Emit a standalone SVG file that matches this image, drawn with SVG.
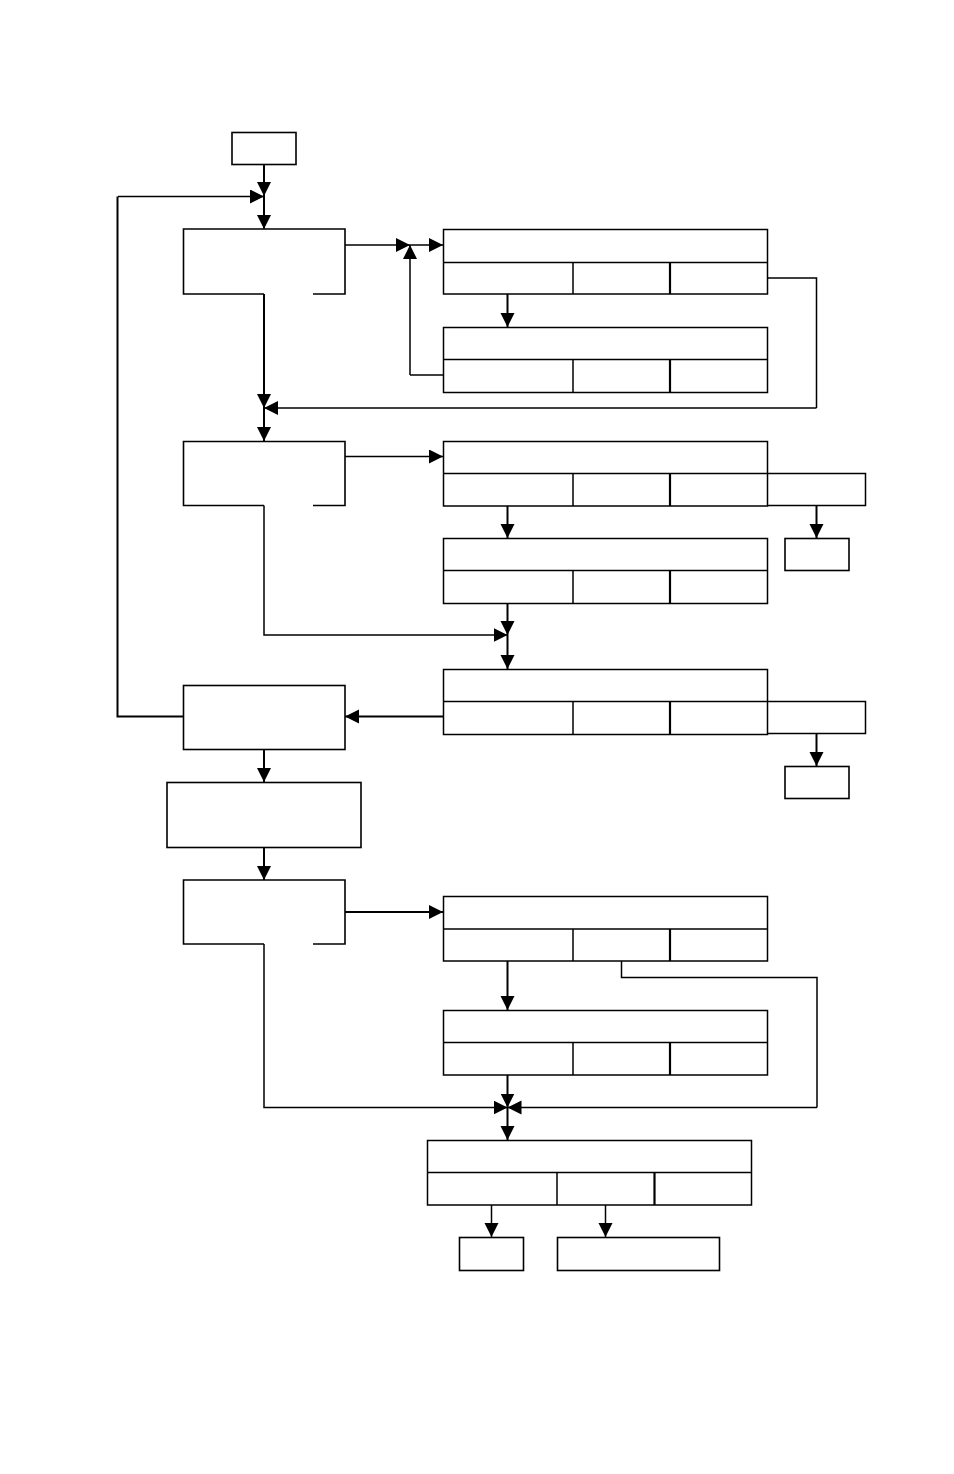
<svg xmlns="http://www.w3.org/2000/svg" width="954" height="1474" viewBox="0 0 954 1474">
<style>
.b{fill:none;stroke:#000;stroke-width:1.6}
.d{fill:none;stroke:#000;stroke-width:2.2}
.c{fill:none;stroke:#000;stroke-width:2}
.t{fill:none;stroke:#000;stroke-width:1.5}
</style>
<defs>
<marker id="ah" markerUnits="userSpaceOnUse" markerWidth="16" markerHeight="16" refX="14" refY="7" orient="auto">
<path d="M0,0 L14,7 L0,14 z" fill="#000"/>
</marker>
</defs>
<rect width="954" height="1474" fill="#fff"/>

<g id="start"><rect class="b" x="232" y="132.5" width="64" height="32"/></g>

<g id="box1"><path class="b" d="M264,294 H183.5 V229 H345 V294 H313"/></g>
<g id="table1">
<rect class="t" x="443.5" y="229.5" width="324" height="64.5"/>
<line class="t" x1="443.5" y1="262.5" x2="767.5" y2="262.5"/>
<line class="t" x1="573" y1="262.5" x2="573" y2="294"/>
<line class="d" x1="670" y1="262.5" x2="670" y2="294"/>
</g>
<g id="table2">
<rect class="t" x="443.5" y="327.5" width="324" height="65"/>
<line class="t" x1="443.5" y1="359.5" x2="767.5" y2="359.5"/>
<line class="t" x1="573" y1="359.5" x2="573" y2="392.5"/>
<line class="d" x1="670" y1="359.5" x2="670" y2="392.5"/>
</g>

<g id="box2"><path class="b" d="M264,505.5 H183.5 V441.5 H345 V505.5 H313"/></g>
<g id="table3">
<rect class="t" x="443.5" y="441.5" width="324" height="64.5"/>
<line class="t" x1="443.5" y1="473.5" x2="767.5" y2="473.5"/>
<line class="t" x1="573" y1="473.5" x2="573" y2="506"/>
<line class="d" x1="670" y1="473.5" x2="670" y2="506"/>
<path class="t" d="M767.5,473.5 H865.5 V505.5 H767.5"/>
</g>
<g id="small1"><rect class="b" x="785" y="538.5" width="64" height="32"/></g>
<g id="table4">
<rect class="t" x="443.5" y="538.5" width="324" height="65"/>
<line class="t" x1="443.5" y1="570.5" x2="767.5" y2="570.5"/>
<line class="t" x1="573" y1="570.5" x2="573" y2="603.5"/>
<line class="d" x1="670" y1="570.5" x2="670" y2="603.5"/>
</g>

<g id="table5">
<rect class="t" x="443.5" y="669.5" width="324" height="65"/>
<line class="t" x1="443.5" y1="701.5" x2="767.5" y2="701.5"/>
<line class="t" x1="573" y1="701.5" x2="573" y2="734.5"/>
<line class="d" x1="670" y1="701.5" x2="670" y2="734.5"/>
<path class="t" d="M767.5,701.5 H865.5 V733.5 H767.5"/>
</g>
<g id="small2"><rect class="b" x="785" y="766.5" width="64" height="32"/></g>

<g id="box3"><rect class="b" x="183.5" y="685.5" width="161.5" height="64"/></g>
<g id="box4"><rect class="b" x="167" y="782.5" width="194" height="65"/></g>

<g id="box5"><path class="b" d="M264,944 H183.5 V880 H345 V944 H313"/></g>
<g id="table6">
<rect class="t" x="443.5" y="896.5" width="324" height="64.5"/>
<line class="t" x1="443.5" y1="929" x2="767.5" y2="929"/>
<line class="t" x1="573" y1="929" x2="573" y2="961"/>
<line class="d" x1="670" y1="929" x2="670" y2="961"/>
</g>
<g id="table7">
<rect class="t" x="443.5" y="1010.5" width="324" height="64.5"/>
<line class="t" x1="443.5" y1="1042.5" x2="767.5" y2="1042.5"/>
<line class="t" x1="573" y1="1042.5" x2="573" y2="1075"/>
<line class="d" x1="670" y1="1042.5" x2="670" y2="1075"/>
</g>
<g id="table8">
<rect class="t" x="427.5" y="1140.5" width="324" height="64.5"/>
<line class="t" x1="427.5" y1="1172.5" x2="751.5" y2="1172.5"/>
<line class="t" x1="557" y1="1172.5" x2="557" y2="1205"/>
<line class="d" x1="654.5" y1="1172.5" x2="654.5" y2="1205"/>
</g>
<g id="small3"><rect class="b" x="459.5" y="1237.5" width="64" height="33"/></g>
<g id="wide"><rect class="b" x="557.5" y="1237.5" width="162" height="33"/></g>

<g id="connectors">
<line class="c" x1="264" y1="164.5" x2="264" y2="196" marker-end="url(#ah)"/>
<line class="t" x1="118" y1="196.5" x2="264" y2="196.5" marker-end="url(#ah)"/>
<line class="c" x1="264" y1="196" x2="264" y2="229" marker-end="url(#ah)"/>

<line class="t" x1="345" y1="245" x2="410" y2="245" marker-end="url(#ah)"/>
<line class="t" x1="410" y1="375" x2="410" y2="245" marker-end="url(#ah)"/>
<path class="t" d="M443.5,375 H410"/>
<line class="t" x1="410" y1="245" x2="443" y2="245" marker-end="url(#ah)"/>
<line class="c" x1="507.5" y1="294" x2="507.5" y2="327" marker-end="url(#ah)"/>
<path class="t" d="M767.5,278 H816.5 V408"/>
<line class="t" x1="816.5" y1="408" x2="264" y2="408" marker-end="url(#ah)"/>
<line class="c" x1="264" y1="294" x2="264" y2="408" marker-end="url(#ah)"/>
<line class="c" x1="264" y1="408" x2="264" y2="441" marker-end="url(#ah)"/>

<line class="t" x1="345" y1="456.5" x2="443" y2="456.5" marker-end="url(#ah)"/>
<line class="c" x1="507.5" y1="506" x2="507.5" y2="538" marker-end="url(#ah)"/>
<line class="c" x1="816.5" y1="505.5" x2="816.5" y2="538" marker-end="url(#ah)"/>
<path class="t" d="M264,505.5 V635 H350"/>
<line class="t" x1="350" y1="635" x2="507.5" y2="635" marker-end="url(#ah)"/>
<line class="c" x1="507.5" y1="603.5" x2="507.5" y2="635" marker-end="url(#ah)"/>
<line class="c" x1="507.5" y1="635" x2="507.5" y2="669" marker-end="url(#ah)"/>

<line class="c" x1="816.5" y1="733.5" x2="816.5" y2="766" marker-end="url(#ah)"/>
<line class="c" x1="443.5" y1="716.5" x2="345" y2="716.5" marker-end="url(#ah)"/>
<path class="c" d="M183.5,716.5 H117.5 V196.5"/>
<line class="c" x1="264" y1="749.5" x2="264" y2="782" marker-end="url(#ah)"/>
<line class="c" x1="264" y1="847.5" x2="264" y2="880" marker-end="url(#ah)"/>

<line class="c" x1="345" y1="912" x2="443" y2="912" marker-end="url(#ah)"/>
<line class="c" x1="507.5" y1="961" x2="507.5" y2="1010" marker-end="url(#ah)"/>
<path class="t" d="M621.5,961 V977.5 H817 V1107.5"/>
<line class="t" x1="817" y1="1107.5" x2="507.5" y2="1107.5" marker-end="url(#ah)"/>
<path class="t" d="M264,944 V1107.5 H350"/>
<line class="t" x1="350" y1="1107.5" x2="507.5" y2="1107.5" marker-end="url(#ah)"/>
<line class="c" x1="507.5" y1="1075" x2="507.5" y2="1107.5" marker-end="url(#ah)"/>
<line class="c" x1="507.5" y1="1107.5" x2="507.5" y2="1140" marker-end="url(#ah)"/>

<line class="t" x1="491.5" y1="1205" x2="491.5" y2="1237" marker-end="url(#ah)"/>
<line class="t" x1="605.5" y1="1205" x2="605.5" y2="1237" marker-end="url(#ah)"/>
</g>
</svg>
